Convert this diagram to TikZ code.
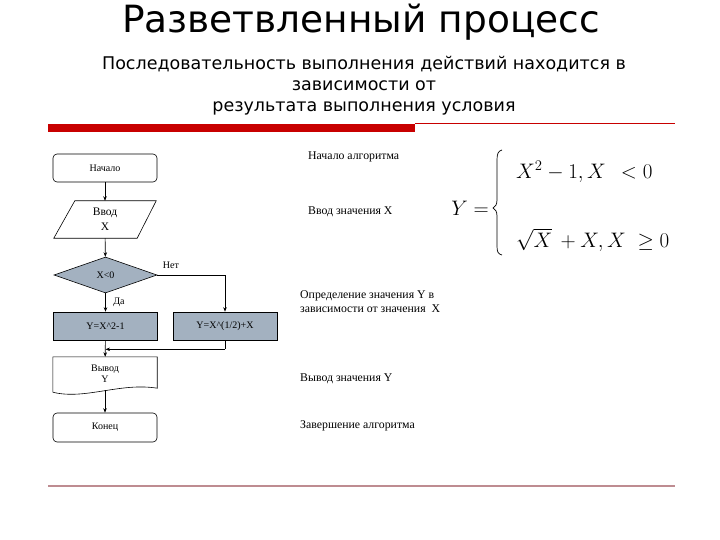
\documentclass[tikz,border=0pt]{standalone}
\usepackage{fix-cm}
\usepackage{fontspec}
\setmainfont{Liberation Serif}
\newfontfamily\hfont{DejaVu Sans}
\usetikzlibrary{shapes.geometric,arrows.meta,calc}
\definecolor{boxfill}{RGB}{163,177,192}
\definecolor{barred}{RGB}{200,0,0}
\definecolor{lineros}{RGB}{190,140,145}
\tikzset{
  fc/.style={draw, line width=0.6pt, font=\fontsize{10}{11}\selectfont, inner sep=0pt, align=center},
  term/.style={fc, rounded corners=4pt, minimum width=104pt, minimum height=28pt},
  proc/.style={fc, fill=boxfill, minimum width=104pt, minimum height=28pt},
  ghost/.style={inner sep=0pt, align=center},
  arr/.style={-{Stealth[length=4.5pt,width=3.5pt]}, line width=0.6pt},
  conn/.style={line width=0.6pt},
  note/.style={anchor=west, inner sep=0pt, align=left, font=\fontsize{11.8}{14}\selectfont},
  lbl/.style={inner sep=0pt, font=\fontsize{10}{12}\selectfont},
  formula/.style={inner sep=0pt, font=\fontsize{21}{24}\selectfont}
}
\begin{document}
\begin{tikzpicture}[x=1pt,y=-1pt]
\useasboundingbox (0,0) rectangle (720,540);
% title
\node[anchor=base, inner sep=0pt, font=\hfont\fontsize{37.5}{40}\selectfont] (title) at (361,33) {Разветвленный процесс};
\node[anchor=base, inner sep=0pt, font=\hfont\fontsize{17.5}{21}\selectfont] (s1) at (364,70) {Последовательность выполнения действий находится в};
\node[anchor=base, inner sep=0pt, font=\hfont\fontsize{17.5}{21}\selectfont] (s2) at (364,91) {зависимости от};
\node[anchor=base, inner sep=0pt, font=\hfont\fontsize{17.5}{21}\selectfont] (s3) at (364,112) {результата выполнения условия};
% bars
\fill[barred] (48,124) rectangle (415,132);
\draw[barred, line width=0.8pt] (415,123.6) -- (675,123.6);
\draw[lineros, line width=2pt] (48,486) -- (675,486);
% flowchart
\node[term] (start) at (105,168) {Начало};
\node[ghost, minimum width=102pt, minimum height=37pt, font=\fontsize{11.5}{15}\selectfont] (inp) at (105,219.5) {Ввод\\X};
\draw[conn] ($(inp.north west)+(21,0)$) -- (inp.north east) -- ($(inp.south east)+(-19,0)$) -- (inp.south west) -- cycle;
\node[fc, diamond, fill=boxfill, minimum width=103pt, minimum height=36pt] (cond) at (105.5,275) {X<0};
\node[proc] (b1) at (105.5,326) {Y=X\^{}2-1};
\node[proc] (b2) at (225,326) {Y=X\^{}(1/2)+X};
\node[ghost, minimum width=104pt, minimum height=33pt, font=\fontsize{10}{11}\selectfont] (out) at (105,373.5) {Вывод\\Y};
\draw[conn] ($(out.south west)+(0,2)$) -- (out.north west) -- (out.north east) -- ($(out.south east)+(0,-2)$)
  .. controls ($(out.south east)+(-37,-8)$) and ($(out.south west)+(32,10)$) .. ($(out.south west)+(0,2)$);
\node[term, minimum height=29pt] (end) at (105,427.5) {Конец};
% connectors
\draw[arr] (start) -- (inp);
\draw[arr] (inp) -- (cond);
\draw[arr] (cond) -- (b1);
\draw[arr] (cond.east) -| (b2.north);
\draw[conn] (b2.south) -- ++(0,9) coordinate (mj);
\draw[arr] (mj) -- (mj -| b1.south);
\draw[arr] (b1) -- (out);
\draw[arr] (out.south) -- (end);
\node[lbl] (no) at (171,265) {Нет};
\node[lbl] (yes) at (119,302) {Да};
% notes
\node[note] (n1) at (308,157) {Начало алгоритма};
\node[note] (n2) at (308,212) {Ввод значения X};
\node[note] (n3) at (300,302) {Определение значения Y в\\зависимости от значения\ \ X};
\node[note] (n4) at (300,379) {Вывод значения Y};
\node[note] (n5) at (300,426) {Завершение алгоритма};
% formula
\node[formula] (fy) at (470,208) {$Y=$};
\draw[line width=0.7pt] (502,150) .. controls (498,151) and (497,154) .. (497,160) -- (497,200)
  .. controls (497,205) and (495,207) .. (493,208) .. controls (495,209) and (497,211) .. (497,216)
  -- (497,246) .. controls (497,252) and (498,254) .. (502,255);
\node[formula, anchor=west] (f1) at (516,172) {$X^2-1,X\;\,<0$};
\node[formula, anchor=west] (f2) at (516,240) {$\sqrt{X}\,+X,X\;\geq 0$};
\end{tikzpicture}
\end{document}
